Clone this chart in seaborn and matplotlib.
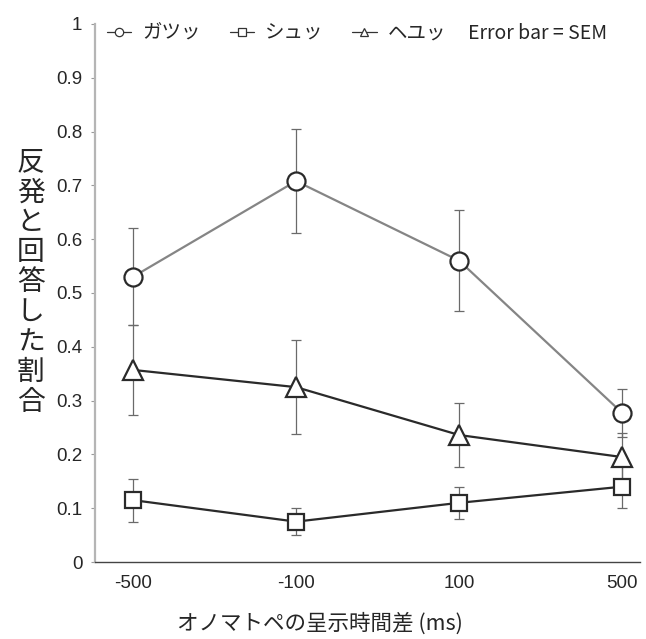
import pandas as pd
import matplotlib.pyplot as plt
import seaborn as sns
from matplotlib.lines import Line2D

# values
soa_labels = ['-500', '-100', '100', '500']
gatsu_mean = [0.53, 0.708, 0.56, 0.277]
gatsu_sem = [0.09, 0.097, 0.094, 0.045]
shu_mean = [0.115, 0.075, 0.11, 0.14]
shu_sem = [0.04, 0.025, 0.03, 0.04]
heyu_mean = [0.357, 0.325, 0.236, 0.195]
heyu_sem = [0.083, 0.088, 0.06, 0.045]

series_names = ['ガツッ', 'シュッ', 'ヘユッ']
series_means = [gatsu_mean, shu_mean, heyu_mean]
series_sems = [gatsu_sem, shu_sem, heyu_sem]
series_markers = ['o', 's', '^']
series_sizes = [13, 12, 15]
line_colors = ['#858585', '#2a2a2a', '#2a2a2a']

rows = []
for name, means, sems in zip(series_names, series_means, series_sems):
    for i, (m, s) in enumerate(zip(means, sems)):
        rows.append({'series': name, 'pos': i, 'label': soa_labels[i], 'mean': m, 'sem': s})
df = pd.DataFrame(rows)

sns.set_style('white')
plt.rcParams['font.family'] = ['Noto Sans CJK JP', 'DejaVu Sans']

fig = plt.figure(figsize=(6.46, 6.39), dpi=100)
ax = fig.add_axes([0.147, 0.1205, 0.844, 0.842])

# error bars first so the white markers sit on top
for name in series_names:
    sub = df[df['series'] == name]
    ax.errorbar(sub['pos'], sub['mean'], yerr=sub['sem'], fmt='none',
                ecolor='#6a6a6a', elinewidth=0.9, capsize=3.5, capthick=0.9, zorder=1)

for name, mk, ms, col in zip(series_names, series_markers, series_sizes, line_colors):
    sub = df[df['series'] == name]
    sns.lineplot(data=sub, x='pos', y='mean', ax=ax, color=col, linewidth=1.6,
                 marker=mk, markersize=ms, markerfacecolor='white',
                 markeredgecolor='#2a2a2a', markeredgewidth=1.6,
                 errorbar=None, legend=False, zorder=3)

ax.set_xlim(-0.233, 3.11)
ax.set_ylim(0, 1)
ax.set_xticks(range(len(soa_labels)))
ax.set_xticklabels(soa_labels)
yticks = [0, 0.1, 0.2, 0.3, 0.4, 0.5, 0.6, 0.7, 0.8, 0.9, 1]
ax.set_yticks(yticks)
ax.set_yticklabels(['0', '0.1', '0.2', '0.3', '0.4', '0.5', '0.6', '0.7', '0.8', '0.9', '1'])
for lab in ax.get_xticklabels() + ax.get_yticklabels():
    lab.set_family('Liberation Sans')
    lab.set_fontsize(13.5)
ax.tick_params(axis='x', length=0, pad=9)
ax.tick_params(axis='y', length=3, width=0.8, color='#999999', pad=6, left=True)

sns.despine(ax=ax)
ax.spines['left'].set_color('#b5b5b5')
ax.spines['left'].set_linewidth(1.6)
ax.spines['bottom'].set_color('#444444')
ax.spines['bottom'].set_linewidth(1.0)

ax.set_xlabel('オノマトペの呈示時間差 (ms)', fontsize=15.5, va='center')
ax.xaxis.set_label_coords((320 - 95) / 545, -(624 - 562) / 538)
ax.set_ylabel('\n'.join('反発と回答した割合'), fontsize=20, rotation=0,
              linespacing=1.0, va='center', ha='center')
ax.yaxis.set_label_coords(-0.118, 0.52)

# legend with small marker handles
handles = [Line2D([0], [0], color='#333333', lw=0.9, marker=mk, markersize=6,
                  markerfacecolor='white', markeredgecolor='#333333', markeredgewidth=0.9)
           for mk in series_markers]
ax.legend(handles, series_names, loc='center left', bbox_to_anchor=((107 - 95) / 545, 0.983),
          ncol=3, frameon=False, fontsize=14, handlelength=1.25, handletextpad=0.55,
          columnspacing=1.5, borderaxespad=0, borderpad=0)
ax.text((607 - 95) / 545, 0.983, 'Error bar = SEM', transform=ax.transAxes,
        ha='right', va='center', fontsize=14)

fig.savefig('out.png', dpi=100)
